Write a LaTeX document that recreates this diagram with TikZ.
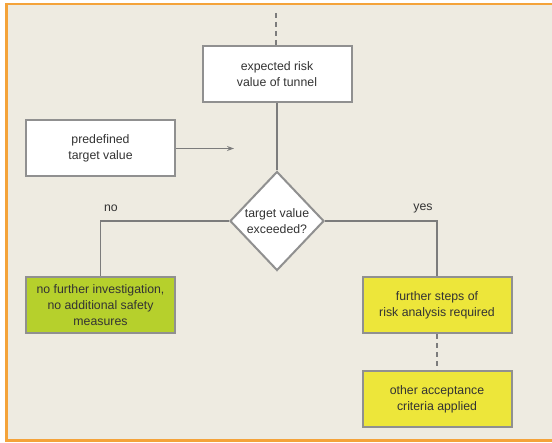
\documentclass[tikz,border=0pt]{standalone}
\usepackage{fontspec}
\setmainfont{Liberation Sans}
\usetikzlibrary{shapes.geometric,arrows.meta}

\definecolor{paper}{HTML}{EEEBE1}
\definecolor{frameorange}{HTML}{F4A33A}
\definecolor{linegray}{HTML}{7C7C7C}
\definecolor{textgray}{HTML}{333333}
\definecolor{boxgreen}{HTML}{B6D02C}
\definecolor{boxyellow}{HTML}{EDE63A}

\begin{document}
\begin{tikzpicture}[x=1pt, y=-1pt,
  font=\fontsize{12.3}{16}\selectfont, text=textgray,
  flow/.style={draw=linegray, line width=1.8pt},
  gap/.style={dash pattern=on 5pt off 4pt},
  stepbox/.style={draw=linegray!85, line width=2pt, fill=white, align=center,
    minimum width=149pt, minimum height=56pt, inner sep=2pt},
  question/.style={diamond, draw=linegray!85, line width=2pt, fill=white,
    align=center, minimum width=94pt, minimum height=99pt, inner sep=0pt}]

  \useasboundingbox (0,0) rectangle (552,443);
  \fill[white] (0,0) rectangle (552,443);
  \fill[paper] (7.5,5.5) rectangle (552,439.5);
  % frame, open on the right
  \fill[frameorange] (5,3) rectangle (552,5.5);
  \fill[frameorange] (5,3) rectangle (7.5,442);
  \fill[frameorange] (5,439.5) rectangle (552,442);

  \node[stepbox] (risk) at (277,74) {expected risk\\value of tunnel};
  \node[stepbox] (target) at (100.5,148.5) {predefined\\target value};
  \node[question] (exceed) at (277,221) {target value\\exceeded?};

  \node[stepbox, fill=boxgreen] (nomeasures) at (100.5,305.5)
    {no further investigation,\\no additional safety\\measures};
  \node[stepbox, fill=boxyellow] (furthersteps) at (437,305.5)
    {further steps of\\risk analysis required};
  \node[stepbox, fill=boxyellow] (othercrit) at (437,399.5)
    {other acceptance\\criteria applied};

  \coordinate (above) at (276,13);
  \coordinate (arrowend) at (234,148.5);

  \draw[flow, gap] (above) -- (risk.north -| above);
  \draw[flow, -{Stealth[length=7pt, width=5pt]}] (target.east) -- (arrowend);
  \draw[flow] (risk.south) -- (exceed.north);
  \draw[flow] (exceed.west) -| (nomeasures.north);
  \draw[flow] (exceed.east) -| (furthersteps.north);
  \draw[flow, gap] (furthersteps.south) -- (othercrit.north);

  \node (no) at (111,208) {no};
  \node (yes) at (423,208) {yes};

\end{tikzpicture}
\end{document}
